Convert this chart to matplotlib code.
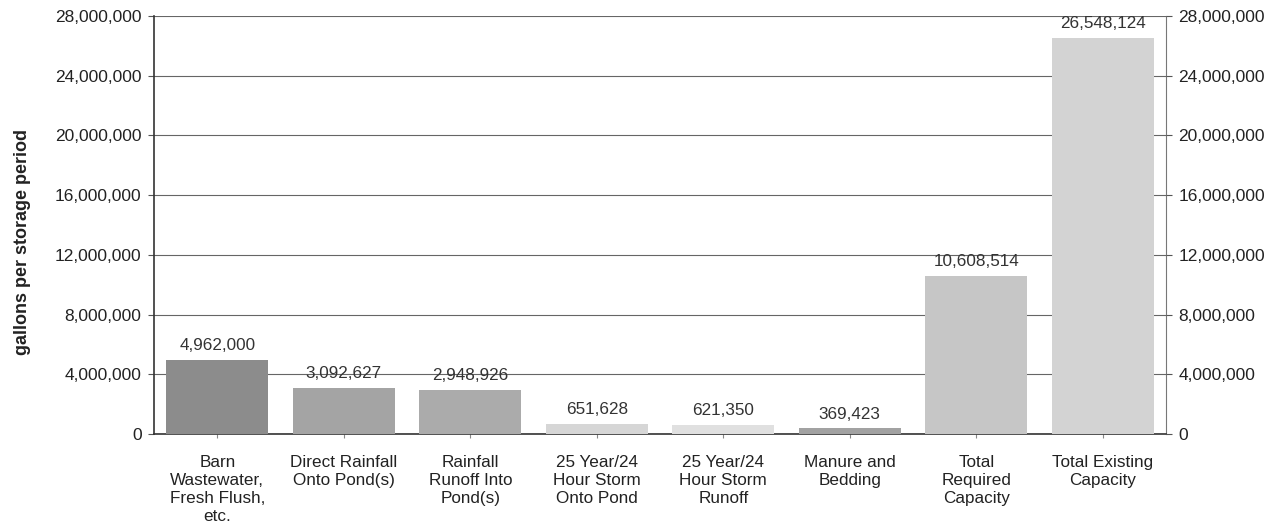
import matplotlib
matplotlib.use("Agg")
import matplotlib.pyplot as plt
from matplotlib.ticker import FuncFormatter

categories = ["Barn\nWastewater,\nFresh Flush,\netc.", "Direct Rainfall\nOnto Pond(s)",
              "Rainfall\nRunoff Into\nPond(s)", "25 Year/24\nHour Storm\nOnto Pond",
              "25 Year/24\nHour Storm\nRunoff", "Manure and\nBedding",
              "Total\nRequired\nCapacity", "Total Existing\nCapacity"]
values = [4962000, 3092627, 2948926, 651628, 621350, 369423, 10608514, 26548124]
colors = ["#8c8c8c", "#a4a4a4", "#ababab", "#d6d6d6", "#e0e0e0", "#a2a2a2", "#c6c6c6", "#d3d3d3"]
yticks = list(range(0, 28000001, 4000000))

plt.rcParams['font.family'] = ['Liberation Sans', 'DejaVu Sans']
fig = plt.figure(figsize=(12.76, 5.31), dpi=100)
ax = fig.add_axes([0.1207, 0.1827, 0.7931, 0.7872])

x = list(range(len(values)))
ax.bar(x, values, width=0.81, color=colors, zorder=3)
for xi, v in zip(x, values):
    ax.annotate(f"{v:,}", (xi, v), xytext=(0, 5), textcoords="offset points",
                ha="center", va="bottom", fontsize=12.3, color="#333333", zorder=4)

ax.set_xlim(-0.5, len(values) - 0.5)
ax.set_ylim(0, 28000000)
ax.set_yticks(yticks)
fmt = FuncFormatter(lambda v, p: f"{int(v):,}")
ax.yaxis.set_major_formatter(fmt)
ax.grid(axis="y", color="#666666", linewidth=0.8, zorder=0)
ax.set_xticks(x)
ax.set_xticklabels(categories, fontsize=12.3, color="#222222", linespacing=1.25)
ax.tick_params(axis="x", length=3, color="#888888", pad=12)
ax.tick_params(axis="y", labelsize=12.5, labelcolor="#222222", length=4, color="#555555", pad=5)
ax.set_ylabel("gallons per storage period", fontsize=13, fontweight="bold", color="#222222")
ax.yaxis.set_label_coords(-0.122, 0.46)

for s in ["left", "bottom"]:
    ax.spines[s].set_color("#333333")
    ax.spines[s].set_linewidth(1.2)
ax.spines["top"].set_visible(False)
ax.spines["right"].set_color("#777777")

ax2 = ax.twinx()
ax2.set_ylim(0, 28000000)
ax2.set_yticks(yticks)
ax2.yaxis.set_major_formatter(fmt)
ax2.tick_params(axis="y", labelsize=12.5, labelcolor="#222222", length=4, color="#555555", pad=5)
for s in ax2.spines.values():
    s.set_visible(False)

fig.savefig("out.png", dpi=100)
